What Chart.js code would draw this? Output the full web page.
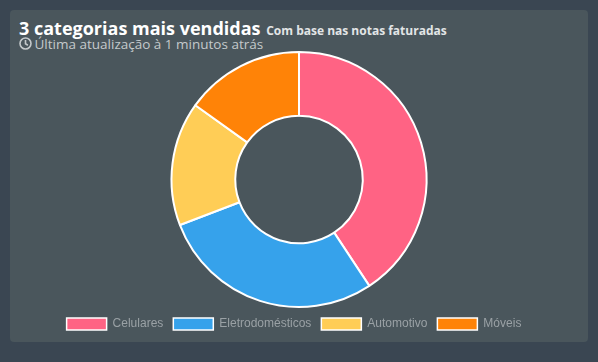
<!DOCTYPE html>
<html>
<head>
<meta charset="utf-8">
<title>3 categorias mais vendidas</title>
<script src="https://cdn.jsdelivr.net/npm/chart.js@4"></script>
<style>
    html, body { margin: 0; padding: 0; width: 598px; height: 362px; background: #3a4652; overflow: hidden; }
    .card { position: absolute; left: 10px; top: 10px; width: 578px; height: 332px; background: #4a565c; border-radius: 4px; }
    .title { position: absolute; left: 9px; top: 6px; font-family: "Open Sans", sans-serif; font-size: 18px; line-height: 24px; font-weight: 700; color: #fff; white-space: nowrap; }
    .title small { font-size: 12px; color: #e2e5e6; margin-left: 1px; }
    .updated { position: absolute; left: 9px; top: 25px; font-family: "Open Sans", sans-serif; font-size: 13.5px; line-height: 18px; color: #c4c9cb; white-space: nowrap; }
    .updated svg { vertical-align: -1px; margin-right: -1px; }
    .chart-box { position: absolute; left: 0; top: 36px; width: 578px; height: 294px; }
</style>
</head>
<body>
<div class="card">
    <div class="title">3 categorias mais vendidas <small>Com base nas notas faturadas</small></div>
    <div class="updated"><svg width="13" height="13" viewBox="0 0 13 13" fill="none" stroke="#c4c9cb" stroke-width="1.6"><circle cx="6.5" cy="6.5" r="5.5"/><path d="M6.5 3v3.8l2.4 1.4"/></svg> Última atualização à 1 minutos atrás</div>
    <div class="chart-box"><canvas id="sales-chart"></canvas></div>
</div>
<script>
    const categories = ['Celulares', 'Eletrodomésticos', 'Automotivo', 'Móveis'];
    const sales = [40.7, 28.5, 15.7, 15.1];
    const colors = ['#ff6384', '#36a2eb', '#ffcd56', '#ff8307'];

    // legend sits a few pixels left of centre in the original
    const legendShift = {
        id: 'legendShift',
        afterLayout(chart) {
            chart.legend.left -= 5;
            chart.legend.right -= 5;
        }
    };

    new Chart(document.getElementById('sales-chart').getContext('2d'), {
        type: 'doughnut',
        data: {
            labels: categories,
            datasets: [{
                data: sales,
                backgroundColor: colors,
                borderColor: '#fff',
                borderWidth: 2
            }]
        },
        options: {
            responsive: true,
            maintainAspectRatio: false,
            animation: false,
            cutout: '50%',
            layout: { padding: { top: 5 } },
            plugins: {
                legend: {
                    position: 'bottom',
                    labels: {
                        color: '#9aa1a5',
                        font: { family: '"Liberation Sans", Arial, sans-serif', size: 12 },
                        generateLabels(chart) {
                            return Chart.overrides.doughnut.plugins.legend.labels.generateLabels(chart)
                                .map(item => ({ ...item, lineWidth: 1.5 }));
                        }
                    }
                },
                tooltip: { enabled: false }
            }
        },
        plugins: [legendShift]
    });
</script>
</body>
</html>
